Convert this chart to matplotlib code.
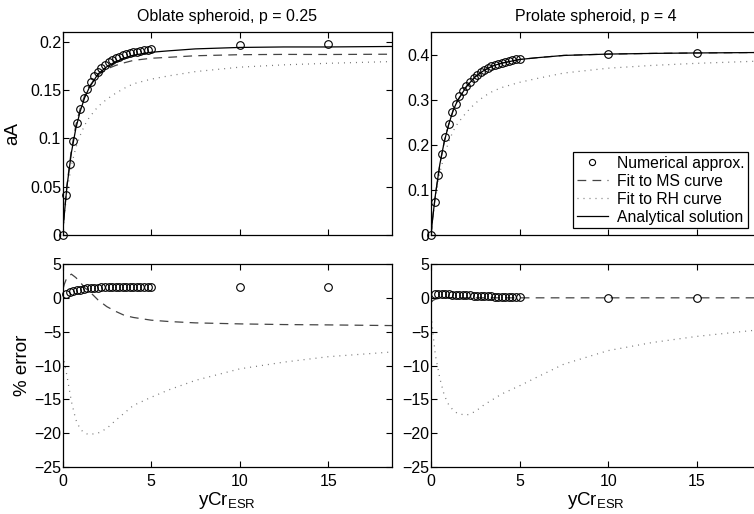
import numpy as np
import matplotlib.pyplot as plt

plt.rcParams['font.family'] = ['Liberation Sans', 'DejaVu Sans']
plt.rcParams['mathtext.default'] = 'regular'

# numerical approximation (circles)
x_num = [0, 0.2, 0.4, 0.6, 0.8, 1.0, 1.2, 1.4, 1.6, 1.8, 2.0, 2.2, 2.4, 2.6, 2.8,
         3.0, 3.2, 3.4, 3.6, 3.8, 4.0, 4.2, 4.4, 4.6, 4.8, 5.0, 10, 15]
num_obl = [0, 0.041, 0.073, 0.097, 0.1155, 0.130, 0.142, 0.151, 0.158, 0.164, 0.169,
           0.173, 0.176, 0.179, 0.181, 0.183, 0.1845, 0.186, 0.187, 0.188, 0.189,
           0.1898, 0.1905, 0.191, 0.1917, 0.1922, 0.197, 0.1975]
num_pro = [0, 0.074, 0.133, 0.180, 0.217, 0.247, 0.272, 0.291, 0.307, 0.320, 0.331,
           0.340, 0.348, 0.355, 0.361, 0.366, 0.370, 0.3735, 0.377, 0.3795, 0.382,
           0.384, 0.386, 0.3875, 0.389, 0.390, 0.4015, 0.4035]

x_err_num = x_num[1:]
err_num_obl = [0.6, 0.8, 1.0, 1.1, 1.2, 1.3, 1.4, 1.45, 1.5, 1.5, 1.55, 1.55, 1.55,
               1.6, 1.6, 1.6, 1.6, 1.6, 1.6, 1.6, 1.6, 1.6, 1.6, 1.6, 1.6, 1.6, 1.6]
err_num_pro = [0.6, 0.6, 0.55, 0.5, 0.5, 0.45, 0.45, 0.4, 0.4, 0.35, 0.35, 0.3, 0.3,
               0.25, 0.25, 0.2, 0.2, 0.15, 0.15, 0.1, 0.1, 0.1, 0.05, 0.05, 0.05, 0, 0]

# curves
x_c = [0, 0.1, 0.25, 0.5, 0.75, 1.0, 1.25, 1.5, 2, 2.5, 3, 3.5, 4, 5, 6, 7.5,
       10, 12.5, 15, 18.6]
ana_obl = [0, 0.021, 0.050, 0.085, 0.110, 0.128, 0.142, 0.152, 0.1665, 0.174, 0.179,
           0.183, 0.186, 0.189, 0.1905, 0.1925, 0.194, 0.1945, 0.1945, 0.195]
ms_obl = [0, 0.0214, 0.0515, 0.0880, 0.1133, 0.1309, 0.1441, 0.1535, 0.1655, 0.1717,
          0.1754, 0.1782, 0.1806, 0.1828, 0.1838, 0.1854, 0.1865, 0.1868, 0.1867, 0.1870]
rh_obl = [0, 0.0190, 0.0443, 0.0720, 0.0902, 0.1032, 0.1136, 0.1213, 0.1328, 0.1404,
          0.1466, 0.1519, 0.1564, 0.1612, 0.1646, 0.1690, 0.1736, 0.1760, 0.1776, 0.1794]
ana_pro = [0, 0.039, 0.089, 0.157, 0.207, 0.245, 0.276, 0.298, 0.329, 0.351, 0.365,
           0.375, 0.381, 0.389, 0.393, 0.398, 0.401, 0.4025, 0.4035, 0.4045]
ms_pro = [0, 0.0388, 0.0888, 0.1569, 0.207, 0.245, 0.276, 0.298, 0.329, 0.351, 0.365,
          0.375, 0.381, 0.389, 0.393, 0.398, 0.401, 0.4025, 0.4035, 0.4045]
rh_pro = [0, 0.0371, 0.0814, 0.1383, 0.1772, 0.2063, 0.2302, 0.2470, 0.2719, 0.2920,
          0.3073, 0.3188, 0.3269, 0.3384, 0.3470, 0.3590, 0.3697, 0.3759, 0.3805, 0.3855]

x_e = [0.05, 0.1, 0.25, 0.5, 0.75, 1.0, 1.25, 1.5, 2, 2.5, 3, 3.5, 4, 5, 6, 7.5,
       10, 12.5, 15, 18.6]
err_ms_obl = [1.5, 2.0, 3.0, 3.5, 3.0, 2.3, 1.5, 1.0, -0.3, -1.3, -2.0, -2.6, -2.9,
              -3.3, -3.5, -3.7, -3.85, -3.95, -4.0, -4.1]
err_rh_obl = [-8.5, -9.5, -11.5, -15.3, -18.0, -19.4, -20.0, -20.2, -20.0, -19.3, -18.1,
              -17.0, -15.9, -14.7, -13.6, -12.2, -10.5, -9.5, -8.7, -8.0]
err_ms_pro = [-0.6, -0.4, -0.2, -0.05, 0, 0, 0, 0, 0, 0, 0, 0, 0, 0, 0, 0, 0, 0, 0, 0]
err_rh_pro = [-3.5, -5.0, -8.5, -11.9, -14.4, -15.8, -16.6, -17.1, -17.35, -16.8, -15.8,
              -15.0, -14.2, -13.0, -11.7, -9.8, -7.8, -6.6, -5.7, -4.7]

fig = plt.figure(figsize=(7.54, 5.14), dpi=100)
w, h = 0.437, 0.395
ax1 = fig.add_axes([0.0829, 0.5428, w, h])
ax2 = fig.add_axes([0.5716, 0.5428, w, h])
ax3 = fig.add_axes([0.0829, 0.0914, w, h])
ax4 = fig.add_axes([0.5716, 0.0914, w, h])

mk = dict(linestyle='none', marker='o', markersize=5.5, markerfacecolor='none',
          markeredgecolor='black', markeredgewidth=0.8, clip_on=False, zorder=5)
dash = dict(color='#444444', linewidth=0.9, dashes=(7, 5))
dot = dict(color='#777777', linewidth=0.9, dashes=(0.8, 4))
solid = dict(color='black', linewidth=0.9)

for ax, num, ana, ms, rh in [(ax1, num_obl, ana_obl, ms_obl, rh_obl),
                             (ax2, num_pro, ana_pro, ms_pro, rh_pro)]:
    ax.plot(x_num, num, label='Numerical approx.', **mk)
    ax.plot(x_c, ms, label='Fit to MS curve', **dash)
    ax.plot(x_c, rh, label='Fit to RH curve', **dot)
    ax.plot(x_c, ana, label='Analytical solution', **solid)

for ax, en, ems, erh in [(ax3, err_num_obl, err_ms_obl, err_rh_obl),
                         (ax4, err_num_pro, err_ms_pro, err_rh_pro)]:
    ax.plot(x_err_num, en, **mk)
    ax.plot(x_e, ems, **dash)
    ax.plot(x_e, erh, **dot)

ax1.set_ylim(0, 0.21)
ax1.set_yticks([0, 0.05, 0.1, 0.15, 0.2])
ax1.set_yticklabels(['0', '0.05', '0.1', '0.15', '0.2'])
ax2.set_ylim(0, 0.45)
ax2.set_yticks([0, 0.1, 0.2, 0.3, 0.4])
ax2.set_yticklabels(['0', '0.1', '0.2', '0.3', '0.4'])
for ax in (ax3, ax4):
    ax.set_ylim(-25, 5)
    ax.set_yticks([-25, -20, -15, -10, -5, 0, 5])
    ax.set_xlabel('yCr$_{ESR}$', fontsize=13.5, labelpad=1)

for ax in (ax1, ax2, ax3, ax4):
    ax.set_xlim(0, 18.6)
    ax.set_xticks([0, 5, 10, 15])
    ax.tick_params(direction='in', top=True, right=True, labelsize=11.5,
                   length=4, width=0.8, pad=1)
    ax.tick_params(axis='x', pad=5)
    for s in ax.spines.values():
        s.set_linewidth(0.9)
for ax in (ax1, ax2):
    ax.set_xticklabels([])

ax1.set_title('Oblate spheroid, p = 0.25', fontsize=11.5, pad=8)
ax2.set_title('Prolate spheroid, p = 4', fontsize=11.5, pad=8)
ax1.set_ylabel('aA', fontsize=13.5, labelpad=6)
ax3.set_ylabel('% error', fontsize=13.5, labelpad=2)

leg = ax2.legend(loc='lower right', bbox_to_anchor=(0.962, 0.034), borderaxespad=0,
                 fontsize=11.3, fancybox=False, edgecolor='black', framealpha=1,
                 handlelength=2.0, handletextpad=0.6, labelspacing=0.2, borderpad=0.2,
                 markerscale=0.8)
leg.get_frame().set_linewidth(0.9)

fig.savefig('out.png', dpi=100)
